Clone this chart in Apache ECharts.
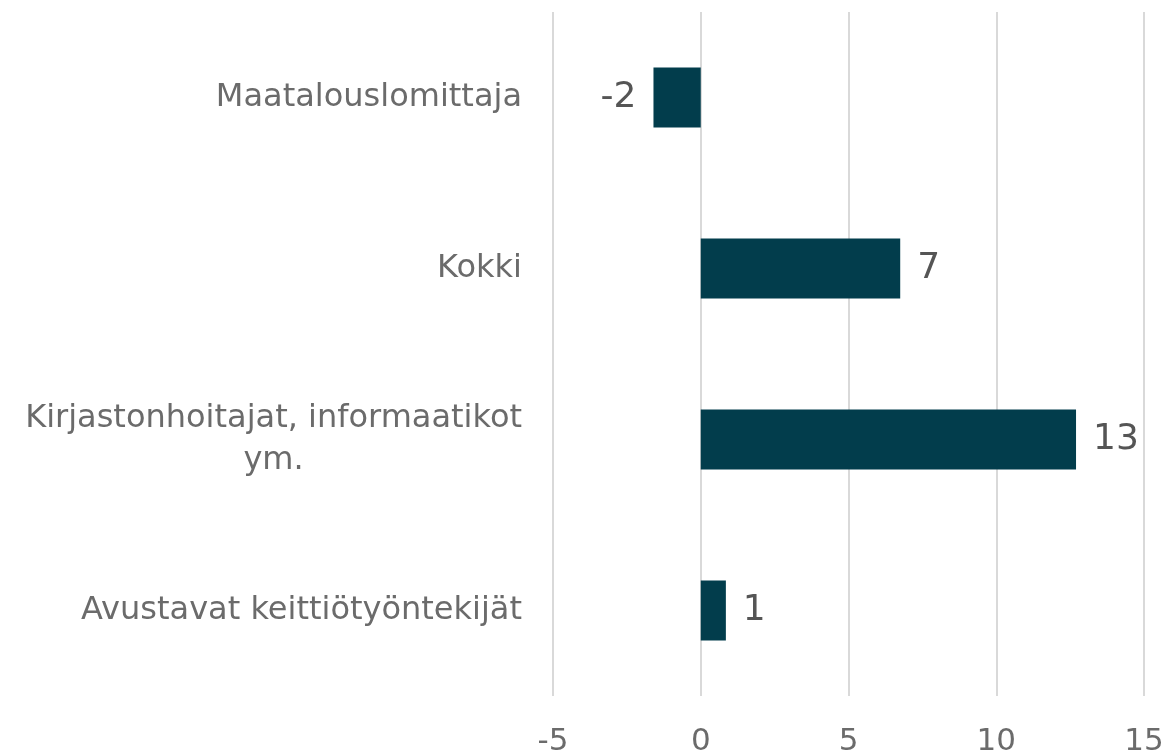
<!DOCTYPE html>
<html>
<head>
<meta charset="UTF-8">
<title></title>
<script src="https://cdn.jsdelivr.net/npm/echarts@6/dist/echarts.min.js"></script>
<style>html,body{margin:0;padding:0;background:#fff;}</style>
</head>
<body>
<div id="main" style="width:1170px;height:750px;"></div>
<script type="text/javascript">
// categories, top to bottom
var categories = ['Maatalouslomittaja', 'Kokki', 'Kirjastonhoitajat, informaatikot\nym.', 'Avustavat keittiötyöntekijät'];
// values (labels show rounded values)
var values = [-1.6, 6.75, 12.7, 0.85];
var xTicks = [-5, 0, 5, 10, 15];

var chart = echarts.init(document.getElementById('main'));
var font = 'Verdana, "DejaVu Sans", sans-serif';

// negative bars get their label on the left
var barData = values.map(function (v) {
  return { value: v, label: { position: v < 0 ? 'left' : 'right' } };
});

chart.setOption({
  animation: false,
  grid: { left: 553, right: 26, top: 12, bottom: 54, containLabel: false, outerBoundsMode: 'none' },
  xAxis: {
    type: 'value',
    min: xTicks[0],
    max: xTicks[xTicks.length - 1],
    interval: 5,
    axisLine: { show: false },
    axisTick: { show: false },
    splitLine: { lineStyle: { color: '#d9d9d9', width: 2 } },
    axisLabel: { color: '#6b6b6b', fontSize: 31, fontFamily: font, margin: 30 }
  },
  yAxis: {
    type: 'category',
    inverse: true,
    data: categories,
    axisLine: { show: false },
    axisTick: { show: false },
    axisLabel: {
      margin: 31,
      formatter: function (v) {
        return v.split('\n').map(function (s) { return '{c|' + s + '}'; }).join('\n');
      },
      rich: {
        c: { color: '#6b6b6b', fontSize: 32, fontFamily: font, align: 'center', lineHeight: 42 }
      }
    }
  },
  series: [{
    type: 'bar',
    data: barData,
    barWidth: '35%',
    itemStyle: { color: '#023d4c' },
    label: {
      show: true,
      position: 'right',
      distance: 17,
      color: '#555555',
      fontSize: 36,
      fontFamily: font,
      formatter: function (p) { return Math.round(p.value); }
    }
  }]
});
</script>
</body>
</html>
